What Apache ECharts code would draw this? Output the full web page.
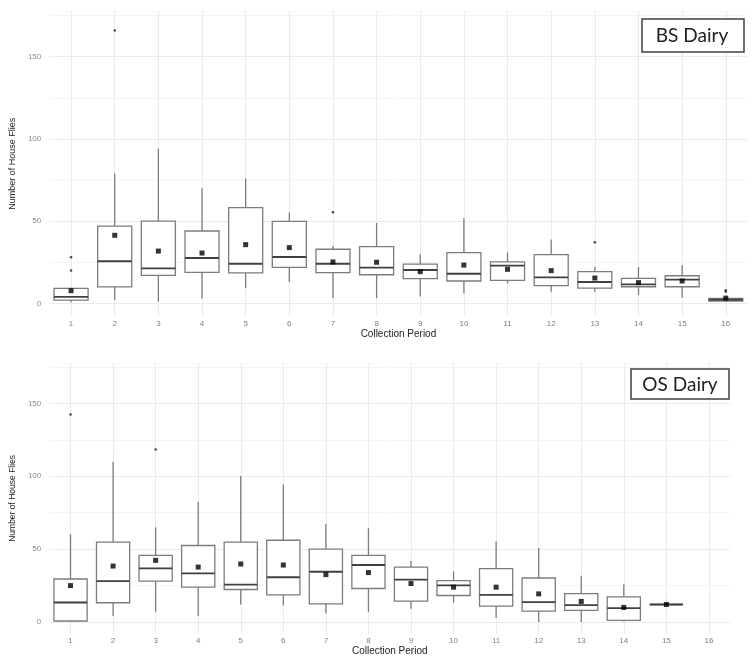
<!DOCTYPE html>
<html>
<head>
<meta charset="utf-8">
<script src="https://cdn.jsdelivr.net/npm/echarts@6/dist/echarts.min.js"></script>
<style>
html,body{margin:0;padding:0;background:#fff;}
#chart{width:754px;height:657px;}
</style>
</head>
<body>
<div id="chart"></div>
<script>
// ---------- data ----------
const categories = ['1','2','3','4','5','6','7','8','9','10','11','12','13','14','15','16'];
const yTickLabels = [0, 50, 100, 150];
const minorGrid = [25, 75, 125, 175];

// BS Dairy: [lower whisker, Q1, median, Q3, upper whisker]
const bsBox = [
  [0.6, 2.0, 3.9, 9.1, 9.5],
  [2, 10, 25.6, 47, 79],
  [1, 17, 21.3, 50, 94],
  [3, 18.9, 27.6, 44, 70],
  [9.3, 18.5, 24.1, 58.2, 76],
  [13, 21.9, 28.2, 49.9, 55.2],
  [3.2, 18.7, 24.1, 32.9, 34.9],
  [3.2, 17.4, 21.7, 34.5, 48.9],
  [4.1, 15, 20.3, 23.9, 29.8],
  [6.1, 13.6, 18, 30.8, 51.7],
  [12, 14, 22.9, 25.2, 31],
  [7.1, 10.8, 15.8, 29.6, 38.9],
  [7.1, 9.3, 13, 19.3, 22.1],
  [5.1, 10.1, 11.6, 15.2, 22.1],
  [3.4, 10.1, 14.4, 16.8, 23.1],
  [1, 1.4, 2.2, 3, 4]
];
const bsMean = [7.7, 41.4, 31.8, 30.6, 35.7, 33.9, 25.2, 25, 19.3, 23.3, 20.7, 19.9, 15.4, 12.6, 13.6, 3.2];
const bsOutliers = [[0, 28], [0, 20], [1, 166], [6, 55.4], [12, 37.1], [15, 7.9], [15, 7.1]];

// OS Dairy
const osBox = [
  [0, 0.7, 13.4, 29.5, 60.2],
  [4.1, 13.2, 28, 54.8, 110],
  [7, 28, 36.8, 45.7, 65],
  [4.1, 23.9, 33.4, 52.5, 82.3],
  [12, 22.3, 25.7, 54.8, 100.2],
  [11.4, 18.6, 30.7, 56.1, 94.3],
  [5.9, 12.5, 34.5, 50, 67.3],
  [7, 23, 39.1, 45.7, 64.3],
  [9.1, 14.3, 29.1, 37.7, 41.8],
  [13.2, 18.2, 25.2, 28.4, 34.8],
  [3, 10.9, 18.6, 36.6, 55.2],
  [0, 7.5, 13.6, 30.2, 50.7],
  [0, 8, 11.6, 19.5, 31.8],
  [0.4, 1.1, 9.5, 17.3, 25.9],
  [12, 12, 12, 12, 12],
  null
];
const osMean = [25, 38.4, 42.3, 37.7, 39.8, 39.1, 32.5, 33.9, 26.4, 23.9, 23.9, 19.3, 14.1, 10, 12, null];
const osOutliers = [[0, 142.4], [2, 118.4]];

// ---------- chart ----------
const chart = echarts.init(document.getElementById('chart'), null, {renderer: 'canvas'});
const FONT = 'Liberation Sans, Arial, sans-serif';

function boxData(arr) {
  const out = [];
  arr.forEach((b, i) => { if (b) out.push([i].concat(b)); });
  return out;
}
function meanData(arr) {
  const out = [];
  arr.forEach((m, i) => { if (m != null) out.push([i, m]); });
  return out;
}

function renderBox(params, api) {
  const i = api.value(0);
  const lo = api.coord([i, api.value(1)]);
  const q1 = api.coord([i, api.value(2)]);
  const med = api.coord([i, api.value(3)]);
  const q3 = api.coord([i, api.value(4)]);
  const hi = api.coord([i, api.value(5)]);
  const bw = api.size([1, 0])[0] * 0.78;
  const x = q1[0];
  const grey = '#7c7c7c';
  return {
    type: 'group',
    children: [
      {type: 'line', shape: {x1: x, y1: hi[1], x2: x, y2: q3[1]}, style: {stroke: grey, lineWidth: 1.3}},
      {type: 'line', shape: {x1: x, y1: q1[1], x2: x, y2: lo[1]}, style: {stroke: grey, lineWidth: 1.3}},
      {type: 'rect', shape: {x: x - bw / 2, y: q3[1], width: bw, height: q1[1] - q3[1]},
        style: {fill: '#fff', stroke: grey, lineWidth: 1.3}},
      {type: 'line', shape: {x1: x - bw / 2, y1: med[1], x2: x + bw / 2, y2: med[1]},
        style: {stroke: '#404040', lineWidth: 1.8}}
    ]
  };
}

function gridLines(xi) {
  const data = [];
  yTickLabels.forEach(v => data.push({yAxis: v, lineStyle: {color: '#ebebeb', width: 1}}));
  minorGrid.forEach(v => data.push({yAxis: v, lineStyle: {color: '#f3f3f3', width: 0.8}}));
  categories.forEach((c, i) => data.push({xAxis: i, lineStyle: {color: '#ebebeb', width: 1}}));
  return {
    type: 'line', xAxisIndex: xi, yAxisIndex: xi, data: [], z: 0, silent: true,
    markLine: {silent: true, z: 0, symbol: ['none', 'none'], label: {show: false},
      lineStyle: {type: 'solid'}, animation: false, data: data}
  };
}

function xAxisCfg(gi, gap) {
  return {
    type: 'category', gridIndex: gi, data: categories, boundaryGap: true,
    axisLine: {show: false}, axisTick: {show: false}, splitLine: {show: false},
    axisLabel: {fontSize: 8, color: '#7f7f7f', margin: 3, fontFamily: FONT},
    name: 'Collection Period', nameLocation: 'middle', nameGap: gap,
    nameTextStyle: {fontSize: 10, color: '#222', fontFamily: FONT}
  };
}
function yAxisCfg(gi, fs) {
  return {
    type: 'value', gridIndex: gi, min: -8.3, max: 178,
    axisLine: {show: false}, axisTick: {show: false}, splitLine: {show: false},
    axisLabel: {fontSize: 8, color: '#8a8a8a', margin: 8, fontFamily: FONT, customValues: yTickLabels},
    name: 'Number of House Flies', nameLocation: 'middle', nameGap: 23, nameRotate: 90,
    nameTextStyle: {fontSize: fs, color: '#222', fontFamily: FONT}
  };
}

function seriesFor(gi, box, mean, outl) {
  return [
    gridLines(gi),
    {type: 'custom', xAxisIndex: gi, yAxisIndex: gi, renderItem: renderBox, z: 6,
      encode: {x: 0, y: [1, 2, 3, 4, 5]}, data: boxData(box)},
    {type: 'scatter', xAxisIndex: gi, yAxisIndex: gi, symbol: 'rect', symbolSize: 5, z: 8,
      itemStyle: {color: '#000'}, data: meanData(mean)},
    {type: 'scatter', xAxisIndex: gi, yAxisIndex: gi, symbol: 'circle', symbolSize: 2.6, z: 8,
      itemStyle: {color: '#222'}, data: outl}
  ];
}

const option = {
  backgroundColor: '#fff',
  animation: false,
  grid: [
    {left: 35, right: 6.4, top: 10.7, height: 306.3},
    {left: 43.5, right: 23.8, top: 362.6, height: 273.9}
  ],
  xAxis: [xAxisCfg(0, 10), xAxisCfg(1, 9)],
  yAxis: [yAxisCfg(0, 9), yAxisCfg(1, 8.5)],
  series: [].concat(seriesFor(0, bsBox, bsMean, bsOutliers), seriesFor(1, osBox, osMean, osOutliers)),
  graphic: [
    {type: 'rect', z: 10, shape: {x: 642, y: 19, width: 102, height: 33},
      style: {fill: '#fff', stroke: '#404040', lineWidth: 1.5}},
    {type: 'text', z: 11, style: {text: 'BS Dairy', x: 692, y: 36, align: 'center', verticalAlign: 'middle',
      font: '19px Lato, "Open Sans", sans-serif', fill: '#222'}},
    {type: 'rect', z: 10, shape: {x: 631, y: 369, width: 98, height: 30},
      style: {fill: '#fff', stroke: '#404040', lineWidth: 1.5}},
    {type: 'text', z: 11, style: {text: 'OS Dairy', x: 680, y: 385, align: 'center', verticalAlign: 'middle',
      font: '19px Lato, "Open Sans", sans-serif', fill: '#222'}}
  ]
};
chart.setOption(option);
</script>
</body>
</html>
